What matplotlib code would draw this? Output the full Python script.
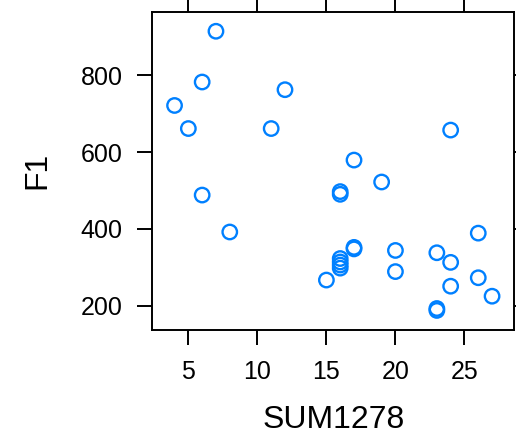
import matplotlib
matplotlib.use('Agg')
import matplotlib.pyplot as plt

plt.rcParams['font.family'] = ['Liberation Sans', 'DejaVu Sans']

# Data
sum1278 = [7, 6, 12, 4, 5, 11, 24, 17, 19, 6, 16, 16, 8, 17, 17, 20,
           16, 16, 16, 16, 26, 23, 24, 15, 20, 26, 24, 27, 23, 23]
f1 = [914, 782, 762, 721, 661, 661, 657, 579, 522, 488, 497, 490, 392, 352, 348, 344,
      323, 314, 306, 298, 389, 338, 313, 267, 289, 273, 251, 225, 193, 188]

x_ticks = [5, 10, 15, 20, 25]
y_ticks = [200, 400, 600, 800]

fig = plt.figure(figsize=(5.16, 4.37), dpi=100)
ax = fig.add_axes([0.2952, 0.2449, 0.7015, 0.7283])

ax.scatter(sum1278, f1, s=108, facecolors='none', edgecolors='#0080ff', linewidths=1.7)

# lattice-style limits: extend range by 7% each side
xr = max(sum1278) - min(sum1278)
yr = max(f1) - min(f1)
ax.set_xlim(min(sum1278) - 0.07 * xr, max(sum1278) + 0.07 * xr)
ax.set_ylim(min(f1) - 0.07 * yr, max(f1) + 0.07 * yr)

ax.set_xticks(x_ticks)
ax.set_yticks(y_ticks)
ax.tick_params(direction='out', length=10.5, width=1.4, labelsize=18, pad=11,
               top=True, right=True, labeltop=False, labelright=False)
for s in ax.spines.values():
    s.set_linewidth(1.4)

ax.set_xlabel('SUM1278', fontsize=23, labelpad=15)
ax.set_ylabel('F1', fontsize=23, labelpad=20)

fig.savefig('out.png', dpi=100)
